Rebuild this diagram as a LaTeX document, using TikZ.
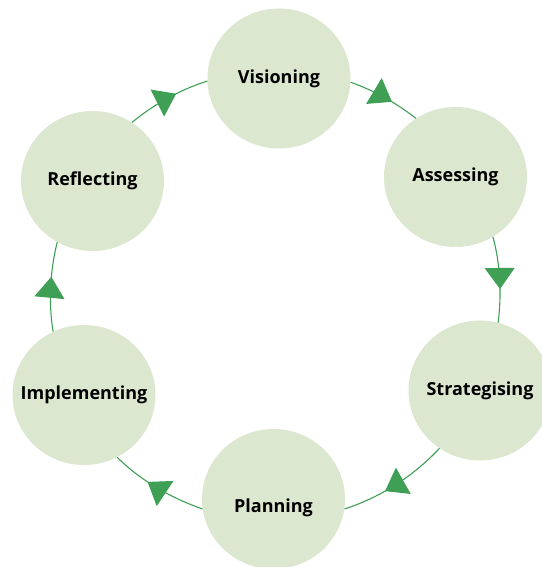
\documentclass[tikz,border=0pt]{standalone}
\usepackage{fontspec}
\setmainfont{Open Sans}
\usetikzlibrary{shapes.geometric,arrows.meta,decorations.markings}
\definecolor{cyclegreen}{HTML}{3F9F55}
\definecolor{stagefill}{HTML}{DBE7CF}
\tikzset{
  stagetext/.style={font=\fontsize{18}{21}\selectfont\bfseries, text=black},
  stage/.style={ellipse, fill=stagefill, draw=none, minimum width=143pt, minimum height=140pt, inner sep=0pt,
    label={[stagetext]center:#1}},
  conn/.style={draw=cyclegreen, line width=1.1pt, looseness=0.855,
    postaction={decorate},
    decoration={markings, mark=at position 0.61 with {\arrow{Triangle[length=21pt,width=30pt,fill=cyclegreen,color=cyclegreen]}}}}
}
\begin{document}
\begin{tikzpicture}[x=1pt,y=1pt]
\useasboundingbox (0,0) rectangle (541,567);
\node[stage=Visioning] (V) at (279,488.5) {};
\node[stage=Assessing] (A) at (455.5,390) {};
\node[stage=Strategising] (S) at (480,176.5) {};
\node[ellipse, fill=stagefill, minimum width=143pt, minimum height=140pt, inner sep=0pt,
  label={[stagetext, yshift=-9pt]center:Planning}] (P) at (273.5,68) {};
\node[stage=Implementing] (I) at (84,172) {};
\node[stage=Reflecting] (R) at (92.5,386) {};
\draw[conn] (V.-3.6) to[out=-19.4, in=141.9] (A.124.9);
\draw[conn] (A.-58.7) to[out=-74.7, in=83.1] (S.75.1);
\draw[conn] (S.-125) to[out=-133.2, in=17.7] (P.-8.1);
\draw[conn] (P.-172) to[out=160.8, in=-44.6] (I.-62);
\draw[conn] (I.116.2) to[out=99.2, in=-103.9] (R.-120.2);
\draw[conn] (R.56.2) to[out=39.6, in=197.8] (V.-178);
\end{tikzpicture}
\end{document}
